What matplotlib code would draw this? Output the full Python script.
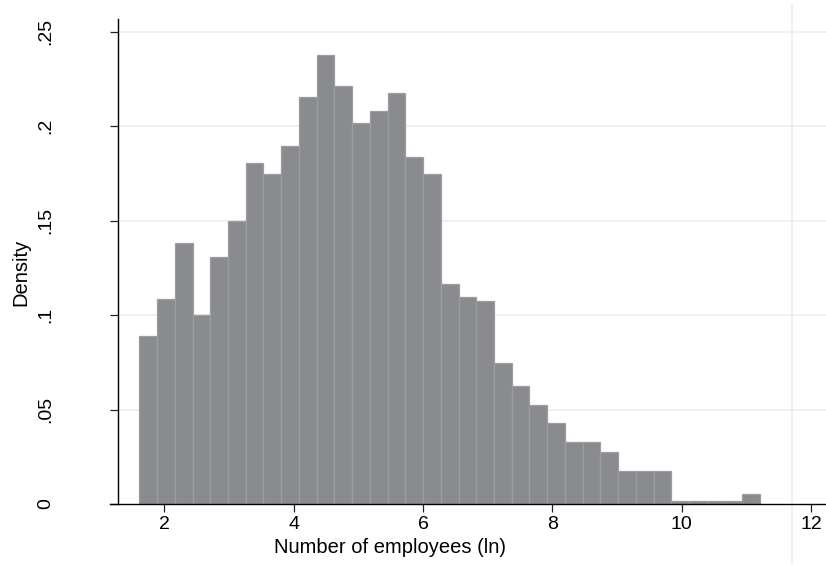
import numpy as np
import matplotlib
matplotlib.use("Agg")
import matplotlib.pyplot as plt
from matplotlib.lines import Line2D

plt.rcParams['font.family'] = ['Liberation Sans', 'DejaVu Sans']

# histogram of ln(employees), density scale, equal-width bins
bin_lo = 1.614
bin_width = 0.2742
density = [0.0891, 0.1083, 0.1379, 0.1002, 0.1308, 0.1498, 0.1806, 0.1745,
           0.1896, 0.2155, 0.2377, 0.2213, 0.2019, 0.2079, 0.2174, 0.1838,
           0.1745, 0.1164, 0.1096, 0.1072, 0.0747, 0.0625, 0.0523, 0.0430,
           0.0326, 0.0326, 0.0277, 0.0174, 0.0174, 0.0174, 0.0017, 0.0017,
           0.0017, 0.0017, 0.0053]
x_ticks = [2, 4, 6, 8, 10, 12]
y_ticks = [0, 0.05, 0.10, 0.15, 0.20, 0.25]
y_ticklabels = ['0', '.05', '.1', '.15', '.2', '.25']

edges = bin_lo + bin_width * np.arange(len(density))

fig = plt.figure(figsize=(8.26, 5.66), dpi=100)
ax = fig.add_axes([110 / 826, 1 - 504 / 566, 716 / 826, 485 / 566])
ax.set_facecolor('none')

spine_pos = 8.3 / 716
for y in y_ticks[1:]:
    ax.axhline(y, xmin=spine_pos, xmax=1, color='#eaf0f1', lw=1.3, zorder=0)

ax.bar(edges, density, width=bin_width, align='edge',
       color='#8a8b8f', edgecolor='#9c9da1', linewidth=0.9, zorder=2)

ax.set_xlim(1.160, 12.232)
ax.set_ylim(0, 0.2567)

for s in ['top', 'right']:
    ax.spines[s].set_visible(False)
ax.spines['left'].set_position(('axes', spine_pos))
ax.spines['left'].set_linewidth(1.0)
ax.spines['bottom'].set_linewidth(1.0)

ax.set_xticks(x_ticks)
ax.set_xticklabels([str(v) for v in x_ticks], fontsize=14)
ax.set_yticks(y_ticks)
ax.set_yticklabels(y_ticklabels, fontsize=14, rotation=90, va='center')
ax.tick_params(axis='both', length=5.8, width=0.9, color='#222222')
ax.tick_params(axis='x', pad=3)
ax.tick_params(axis='y', pad=40)

ax.set_xlabel('Number of employees (ln)', fontsize=14.5)
ax.xaxis.set_label_coords(280 / 716, -34 / 485)
ax.set_ylabel('Density', fontsize=14.5)
ax.yaxis.set_label_coords(-80 / 716, 232 / 485)

# light vertical rule at the right of the graph region
fig.add_artist(Line2D([792 / 826, 792 / 826], [1 - 562 / 566, 1 - 6 / 566],
                      color='#e8eef0', lw=1.3, zorder=0))

fig.savefig('out.png', dpi=100)
